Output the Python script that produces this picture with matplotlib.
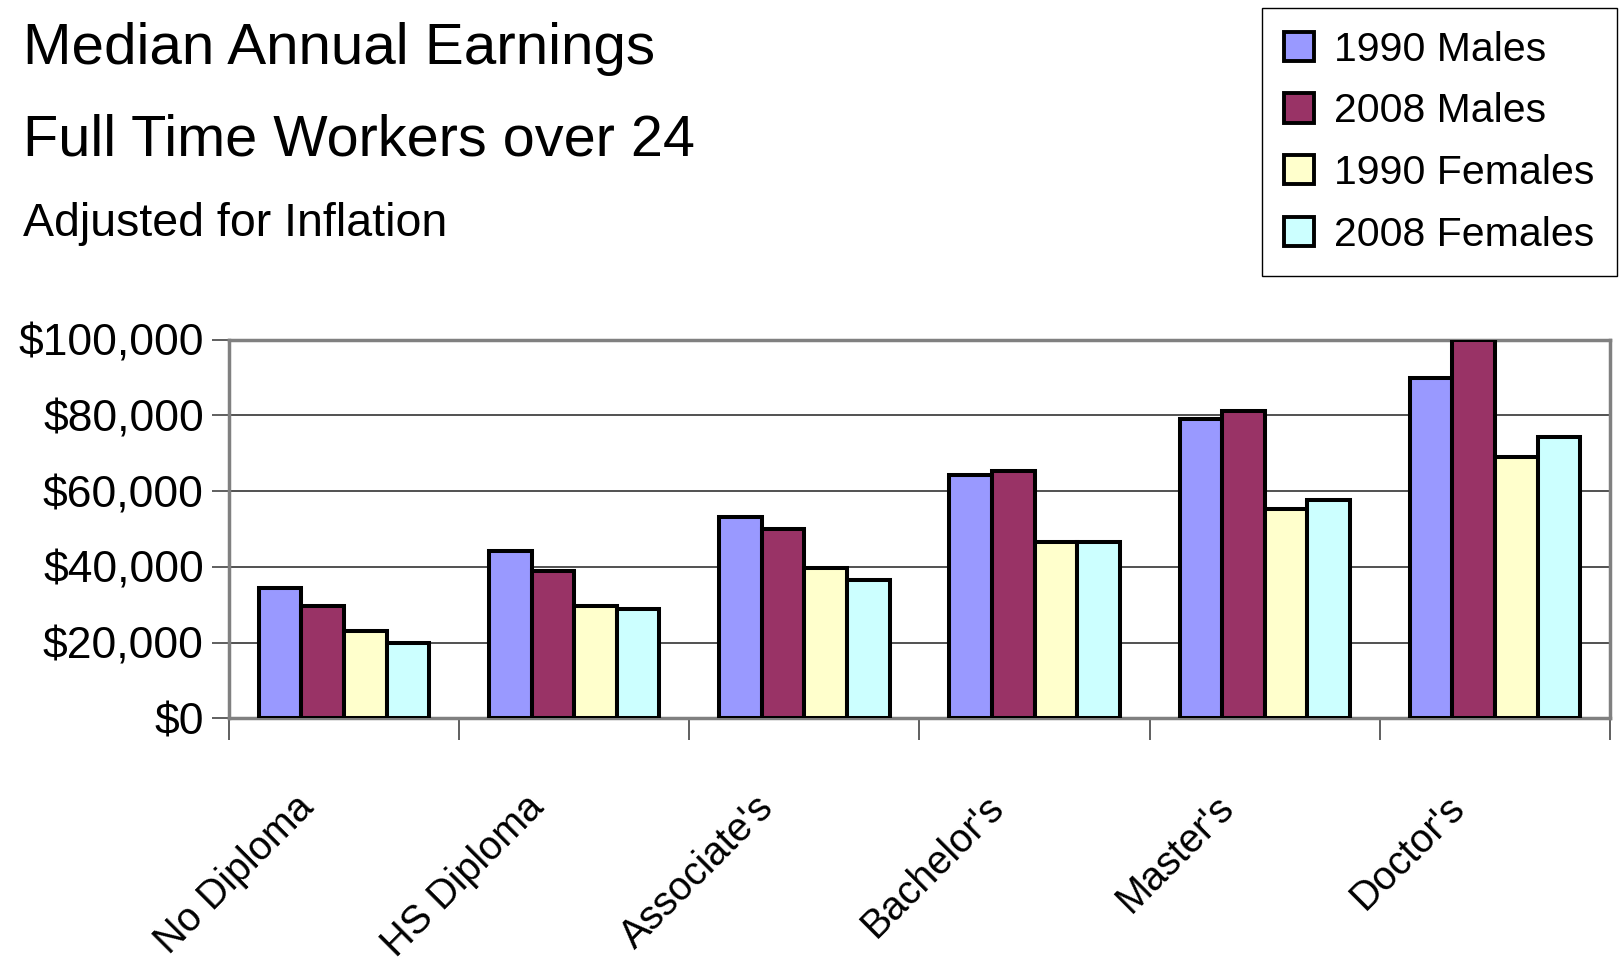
import numpy as np
import matplotlib
matplotlib.use("Agg")
import matplotlib.pyplot as plt
import matplotlib.transforms as mtransforms
from matplotlib.patches import Patch

plt.rcParams['font.family'] = ['Liberation Sans', 'DejaVu Sans']

categories = ["No Diploma", "HS Diploma", "Associate's", "Bachelor's", "Master's", "Doctor's"]
series_names = ["1990 Males", "2008 Males", "1990 Females", "2008 Females"]
males_1990 = [34400, 44300, 53200, 64300, 78900, 89900]
males_2008 = [29800, 38800, 49900, 65400, 81100, 99800]
females_1990 = [23100, 29700, 39800, 46500, 55300, 68900]
females_2008 = [19800, 28800, 36600, 46500, 57600, 74400]
colors = ["#9999FF", "#993366", "#FFFFCC", "#CCFFFF"]
yticks = [0, 20000, 40000, 60000, 80000, 100000]

series = [males_1990, males_2008, females_1990, females_2008]

fig = plt.figure(figsize=(16.23, 9.66), dpi=100)
ax = fig.add_axes([0.141, 0.2563, 0.851, 0.3922])

x = np.arange(len(categories))
bw = 0.185
for i, vals in enumerate(series):
    ax.bar(x + (i - 1.5) * bw, vals, width=bw, color=colors[i],
           edgecolor='black', linewidth=2.9, zorder=3)

ax.set_xlim(-0.5, len(categories) - 0.5)
ax.set_ylim(0, 100000)
ax.set_yticks(yticks)
ax.set_yticklabels(['$0' if v == 0 else '${:,}'.format(v) for v in yticks],
                   fontsize=32)
ax.yaxis.grid(True, color='#222222', linewidth=1.1, zorder=0)

# category labels, rotated like the original
ax.set_xticks(x)
ax.set_xticklabels(categories, rotation=45, ha='right', va='top',
                   rotation_mode='anchor', fontsize=28.5)
ax.tick_params(axis='x', which='major', length=0, pad=50)
shift = mtransforms.ScaledTranslation(-0.5, 0, fig.dpi_scale_trans)
for lab in ax.get_xticklabels():
    lab.set_transform(lab.get_transform() + shift)

ax.set_xticks(np.arange(len(categories) + 1) - 0.5, minor=True)
ax.tick_params(axis='x', which='minor', length=16, width=1.2, color='#444444')
ax.tick_params(axis='y', length=12, width=1.2, color='#444444', pad=6)

for s in ax.spines.values():
    s.set_color('#808080')
    s.set_linewidth(2.5)

fig.text(0.014, 0.934, "Median Annual Earnings", fontsize=42, va='baseline')
fig.text(0.014, 0.8395, "Full Time Workers over 24", fontsize=41.5, va='baseline')
fig.text(0.014, 0.7557, "Adjusted for Inflation", fontsize=33.5, va='baseline')

handles = [Patch(facecolor=c, edgecolor='black', linewidth=2.8) for c in colors]
leg = fig.legend(handles, series_names, loc='upper right',
                 bbox_to_anchor=(0.9963, 0.9917), fontsize=29.5,
                 handlelength=0.72, handleheight=0.72, handletextpad=0.5,
                 labelspacing=0.58, borderpad=0.55, borderaxespad=0,
                 fancybox=False, framealpha=1)
leg.get_frame().set_edgecolor('black')
leg.get_frame().set_linewidth(1.0)

fig.savefig("out.png", dpi=100)
